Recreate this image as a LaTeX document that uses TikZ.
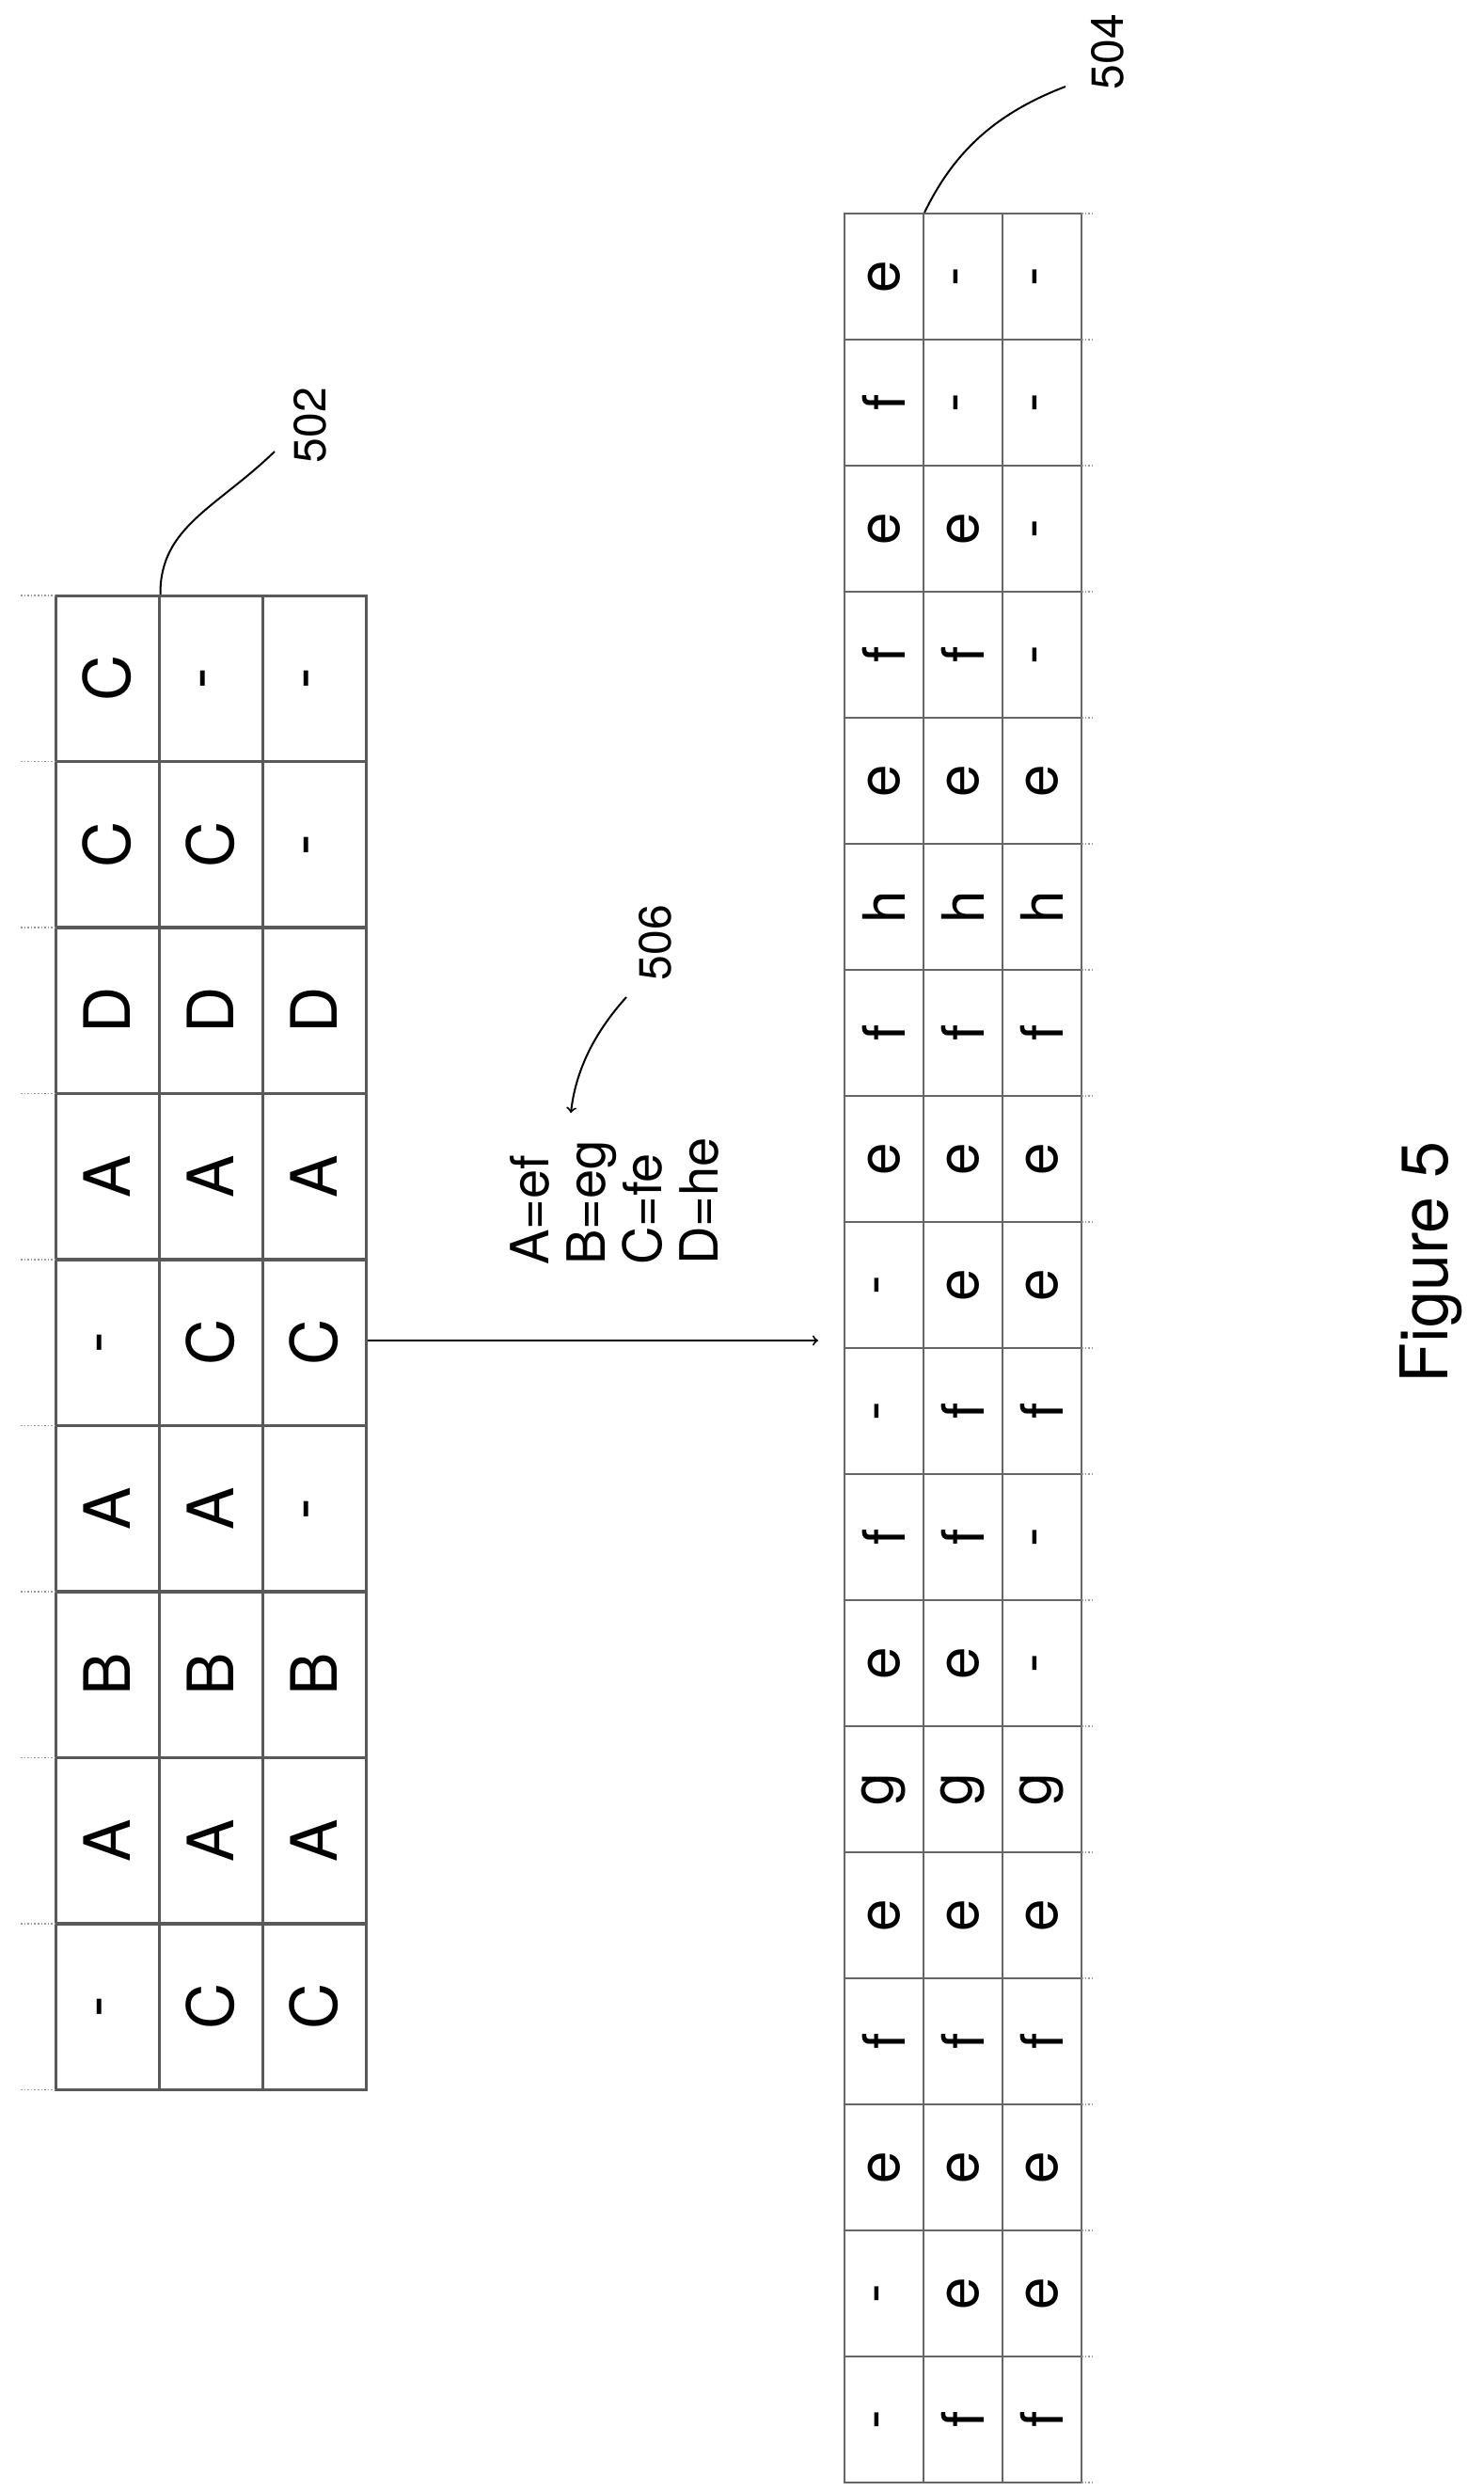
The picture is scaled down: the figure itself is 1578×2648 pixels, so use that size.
\documentclass[tikz,border=0pt]{standalone}
\usepackage{fontspec}
\setmainfont{TeX Gyre Heros}
\usetikzlibrary{positioning}
\tikzset{
  bigcell/.style={draw=black!65,line width=1.5pt,minimum width=88pt,minimum height=55pt,inner sep=0pt,font=\fontsize{34}{36}\selectfont,rotate=90},
  smallcell/.style={draw=black!60,line width=1pt,minimum width=67pt,minimum height=42pt,inner sep=0pt,font=\fontsize{31}{33}\selectfont,rotate=90},
  refnum/.style={font=\fontsize{24}{26}\selectfont,rotate=90},
  tick/.style={black!40,densely dotted,line width=0.8pt}
}
\begin{document}
\begin{tikzpicture}[x=0.5pt,y=-0.5pt]
  \useasboundingbox (0,0) rectangle (1578,2648);

  % left table
  \foreach \c/\col in {1/{C,C,D,A,-,A,B,A,-},2/{-,C,D,A,C,A,B,A,C},3/{-,-,D,A,C,-,B,A,C}}{
    \foreach \t [count=\r] in \col {
      \node[bigcell] (L-\r-\c) at ({59+110*(\c-0.5)},{633+176.5*(\r-0.5)}) {\t};
    }
  }
  \foreach \r in {0,...,9} \draw[tick] (22,{633+176.5*\r}) -- (59,{633+176.5*\r});

  % right table
  \foreach \c/\col in {1/{e,f,e,f,e,h,f,e,-,-,f,e,g,e,f,e,-,-},2/{-,-,e,f,e,h,f,e,e,f,f,e,g,e,f,e,e,f},3/{-,-,-,-,e,h,f,e,e,f,-,-,g,e,f,e,e,f}}{
    \foreach \t [count=\r] in \col {
      \node[smallcell] (R-\r-\c) at ({898+84*(\c-0.5)},{227+134*(\r-0.5)}) {\t};
    }
  }
  \foreach \r in {0,...,18} \draw[tick] (1150,{227+134*\r}) -- (1162,{227+134*\r});

  % mapping
  \coordinate (tip) at (870,1425);
  \draw[->,line width=1pt] (L-5-3.south |- tip) -- (tip);
  \node[font=\fontsize{28}{30}\selectfont,rotate=90,align=left,anchor=north west] (legend) at (535,1352) {A=ef\\B=eg\\C=fe\\D=he};

  % reference numerals
  \node[refnum] (n502) at (330,452) {502};
  \draw[line width=1pt] (L-1-1.south east) .. controls (170,560) and (230,540) .. (292,480);
  \node[refnum] (n504) at (1178,55) {504};
  \draw[line width=1pt] (R-1-1.south east) .. controls (1015,160) and (1060,120) .. (1133,92);
  \node[refnum] (n506) at (697,1002) {506};
  \draw[->,line width=1pt] (666,1060) .. controls (630,1100) and (612,1140) .. (607,1183);

  \node[font=\fontsize{35}{37}\selectfont,rotate=90] (fig) at (1522,1342) {Figure 5};
\end{tikzpicture}
\end{document}
